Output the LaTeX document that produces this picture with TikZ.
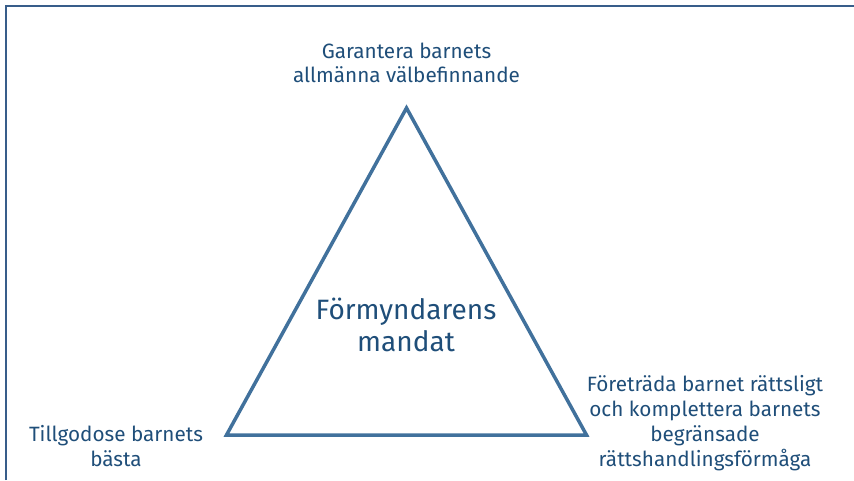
\documentclass[tikz,border=0pt]{standalone}
\usepackage{fontspec}
\setmainfont{Fira Sans}
\usepackage{xcolor}
\usetikzlibrary{positioning}
\definecolor{framecol}{HTML}{385D8A}
\definecolor{edgecol}{HTML}{41719C}
\definecolor{textcol}{HTML}{1F4E79}

\begin{document}
\begin{tikzpicture}[x=1pt,y=-1pt]
  \tikzstyle{goal} = [text=textcol,align=center,inner sep=0pt,anchor=base,font=\fontsize{20.7}{24.7}\selectfont]
  \tikzstyle{mandate} = [text=textcol,align=center,inner sep=0pt,anchor=base,font=\fontsize{28}{32.5}\selectfont]
  \tikzstyle{side} = [draw=edgecol,line width=3.5pt,line join=miter]
  \tikzstyle{frame} = [draw=framecol,line width=2pt]
  %
  \useasboundingbox (0,0) rectangle (854,480);
  % Frame, cut off at the right and bottom.
  \coordinate (frameBL) at (5.5,480);
  \coordinate (frameTL) at (5.5,5.5);
  \coordinate (frameTR) at (854,5.5);
  \draw[frame] (frameBL) -- (frameTL) -- (frameTR);

  % Corners of the triangle.
  \coordinate (apex) at (406.5,108);
  \coordinate (bl) at (226.5,435);
  \coordinate (br) at (586.5,435);
  \draw[side] (apex) -- (bl) -- (br) -- cycle;

  % Texts (base = last line).
  \node[mandate] (mandat) at (406,351.7) {Förmyndarens\\mandat};
  \node[goal] (welfare) at (406.5,82.7) {Garantera barnets\\allmänna välbefinnande};
  \node[goal] (best) at (116,466) {Tillgodose barnets\\bästa};
  \node[goal] (legal) at (705,466) {Företräda barnet rättsligt\\och komplettera barnets\\begränsade\\rättshandlingsförmåga};
\end{tikzpicture}
\end{document}
